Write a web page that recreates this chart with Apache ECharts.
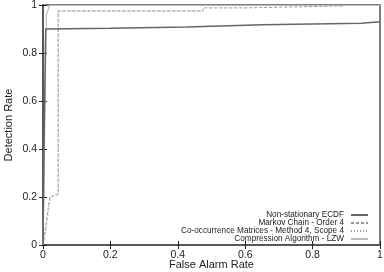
<!DOCTYPE html>
<html><head><meta charset="utf-8">
<script src="https://cdn.jsdelivr.net/npm/echarts@6/dist/echarts.min.js"></script>
<style>html,body{margin:0;padding:0;background:#fff}#c{width:384px;height:272px}</style>
</head><body><div id="c"></div>
<script>
const xTicks = [0, 0.2, 0.4, 0.6, 0.8, 1];
const yTicks = [0, 0.2, 0.4, 0.6, 0.8, 1];
const xName = 'False Alarm Rate';
const yName = 'Detection Rate';
const seriesNames = ['Non-stationary ECDF', 'Markov Chain - Order 4', 'Co-occurrence Matrices - Method 4, Scope 4', 'Compression Algorithm - LZW'];
const ecdf = [[0,0],[0.004,0.5],[0.008,0.9],[0.2,0.903],[0.426,0.908],[0.43,0.916],[0.652,0.918],[0.656,0.922],[0.945,0.924],[0.95,0.929],[1,0.93]];
const markov = [[0,0],[0.02,0.2],[0.045,0.21],[0.045,0.975],[0.475,0.975],[0.475,0.988],[0.6,0.988],[0.6,0.996],[0.89,0.996]];
const cooc = [[0,0],[0.005,0.02],[0.022,0.2],[0.045,0.215],[0.045,0.975],[0.475,0.975]];
const lzw = [[0,0],[0.005,0.5],[0.01,0.96],[0.02,0.998],[1,0.998]];

const font = 'Liberation Sans, Arial, sans-serif';
const chart = echarts.init(document.getElementById('c'));
const baseAxis = {
  min: 0, max: 1, interval: 0.2,
  axisLine: {show: true, lineStyle: {color: '#555', width: 1.5}},
  axisTick: {show: true, inside: true, length: 4, lineStyle: {color: '#222', width: 1}},
  splitLine: {show: false}
};
chart.setOption({
  animation: false,
  grid: {left: 43, right: 4, top: 5, bottom: 27, show: true, borderColor: '#555', borderWidth: 1.5,
    containLabel: false, outerBoundsMode: 'none'},
  graphic: [
    {type: 'text', x: 211.5, y: 264.5,
      style: {text: xName, fontFamily: font, fontSize: 11, fill: '#222', align: 'center', verticalAlign: 'middle'}},
    {type: 'text', x: 8.5, y: 125, rotation: Math.PI / 2,
      style: {text: yName, fontFamily: font, fontSize: 11, fill: '#222', align: 'center', verticalAlign: 'middle'}}
  ],
  xAxis: [
    Object.assign({}, baseAxis, {type: 'value', position: 'bottom',
      axisLabel: {fontFamily: font, fontSize: 10.5, color: '#222', margin: 5,
        formatter: v => xTicks.includes(Math.round(v*10)/10) ? String(Math.round(v*10)/10) : ''}}),
    Object.assign({}, baseAxis, {type: 'value', position: 'top', axisLabel: {show: false}})
  ],
  yAxis: [
    Object.assign({}, baseAxis, {type: 'value', position: 'left',
      axisLabel: {fontFamily: font, fontSize: 10.5, color: '#222', margin: 6,
        formatter: v => yTicks.includes(Math.round(v*10)/10) ? String(Math.round(v*10)/10) : ''}}),
    Object.assign({}, baseAxis, {type: 'value', position: 'right', axisLabel: {show: false}})
  ],
  legend: {
    orient: 'vertical', right: 15, bottom: 29, align: 'right', padding: 0,
    itemGap: 0, itemWidth: 17, itemHeight: 7.6,
    itemStyle: {opacity: 0},
    textStyle: {fontFamily: font, fontSize: 8.2, color: '#222', lineHeight: 7.6, padding: [0, 2, 0, 0]},
    data: seriesNames
  },
  series: [
    {name: seriesNames[0], type: 'line', data: ecdf, symbol: 'none', z: 5,
      lineStyle: {color: '#666', width: 1.5, type: 'solid'}, itemStyle: {color: '#666'}},
    {name: seriesNames[1], type: 'line', data: markov, symbol: 'none', z: 4,
      lineStyle: {color: '#999', width: 1, type: [3, 2]}, itemStyle: {color: '#999'}},
    {name: seriesNames[2], type: 'line', data: cooc, symbol: 'none', z: 4,
      lineStyle: {color: '#999', width: 1, type: [1, 2]}, itemStyle: {color: '#999'}},
    {name: seriesNames[3], type: 'line', data: lzw, symbol: 'none', z: 3,
      lineStyle: {color: '#bbb', width: 1.2, type: 'solid'}, itemStyle: {color: '#bbb'}}
  ]
});
</script></body></html>
